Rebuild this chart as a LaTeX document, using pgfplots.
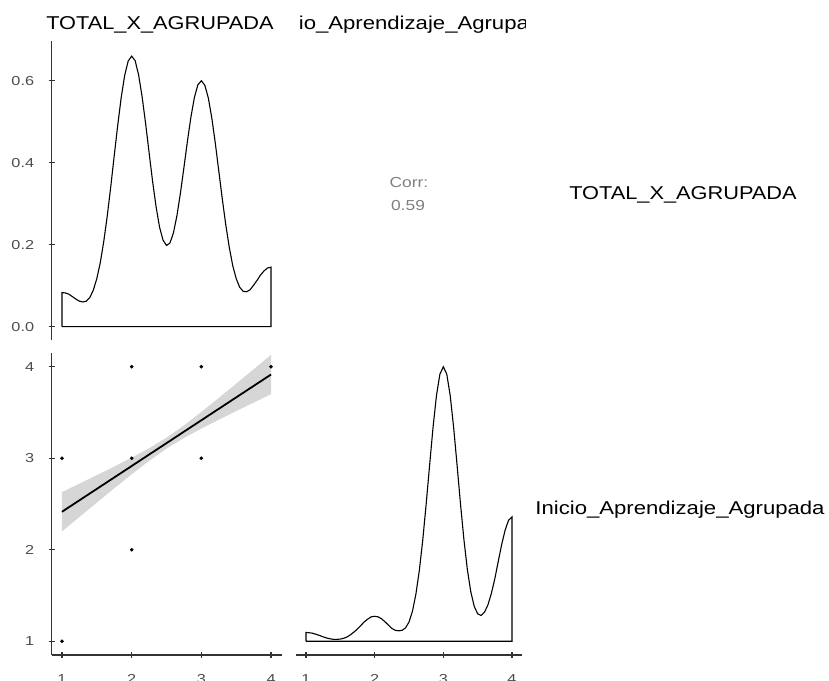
\documentclass[border=0pt]{standalone}
\usepackage{fontspec}
\setmainfont{Liberation Sans}
\usepackage{pgfplots}
\pgfplotsset{compat=1.18}
\definecolor{tickgray}{HTML}{4D4D4D}
\definecolor{corrgray}{HTML}{808080}
\definecolor{axgray}{HTML}{333333}
\definecolor{bandgray}{HTML}{999999}
\pgfplotsset{
  pairstyle/.style={
    scale only axis,
    anchor=south west,
    tick style={line width=1.2pt, color=axgray},
    major tick length=6pt,
    tick align=outside,
    ticklabel style={font=\fontsize{13}{15}\selectfont, color=tickgray, xscale=1.25},
    yticklabel style={xshift=-8pt},
    xticklabel style={yshift=-13pt},
    /pgf/number format/assume math mode=true,
    xmin=0.85, xmax=4.15,
  },
  pairlines/.style={
    axis line style={-, line width=1.2pt, color=axgray},
    every outer x axis line/.append style={-},
    every outer y axis line/.append style={-},
  }
}
\newcommand{\stripfont}{\fontsize{18.6}{20}\selectfont}
\begin{document}
\begin{tikzpicture}[x=1pt,y=1pt]
\useasboundingbox (0,0) rectangle (829,680);
\clip (0,0) rectangle (829,680);

% ---------- top-left: density of TOTAL_X_AGRUPADA ----------
\begin{axis}[pairstyle, at={(51.5pt,339.5pt)}, width=230pt, height=299.5pt,
  ymin=-0.034, ymax=0.697, axis x line=none, axis y line=left,
  ytick={0,0.2,0.4,0.6},
  yticklabel style={/pgf/number format/.cd, fixed, fixed zerofill, precision=1},
  pairlines]
\addplot[black, line width=1.1pt] coordinates {
(1,0) (1.00,0.083) (1.05,0.082) (1.10,0.079) (1.15,0.073) (1.20,0.067) (1.25,0.062)
(1.30,0.060) (1.35,0.062) (1.40,0.071) (1.45,0.089) (1.50,0.117) (1.55,0.156)
(1.60,0.208) (1.65,0.270) (1.70,0.341) (1.75,0.417) (1.80,0.491) (1.85,0.559)
(1.90,0.613) (1.95,0.648) (2.00,0.660) (2.05,0.649) (2.10,0.614) (2.15,0.561)
(2.20,0.496) (2.25,0.425) (2.30,0.355) (2.35,0.293) (2.40,0.243) (2.45,0.211)
(2.50,0.198) (2.55,0.204) (2.60,0.229) (2.65,0.271) (2.70,0.326) (2.75,0.388)
(2.80,0.452) (2.85,0.511) (2.90,0.559) (2.95,0.590) (3.00,0.600) (3.05,0.589)
(3.10,0.558) (3.15,0.509) (3.20,0.448) (3.25,0.380) (3.30,0.312) (3.35,0.249)
(3.40,0.194) (3.45,0.149) (3.50,0.117) (3.55,0.096) (3.60,0.086) (3.65,0.085)
(3.70,0.090) (3.75,0.101) (3.80,0.113) (3.85,0.126) (3.90,0.136) (3.95,0.143)
(4.00,0.145) (4,0) (1,0)};
\end{axis}

% ---------- bottom-left: scatter with linear fit ----------
\begin{axis}[pairstyle, at={(51.5pt,25pt)}, width=230pt, height=302pt,
  ymin=0.85, ymax=4.15, axis x line=bottom, axis y line=left,
  xtick={1,2,3,4}, ytick={1,2,3,4}, pairlines]
\addplot[only marks, mark=*, mark size=1.6pt, black] coordinates {
(1,1) (1,3) (2,2) (2,3) (2,4) (3,3) (3,4) (4,4)};
\addplot[draw=none, fill=bandgray, fill opacity=0.4] coordinates {
(1.00,2.630) (1.25,2.722) (1.50,2.815) (1.75,2.909) (2.00,3.006) (2.25,3.109)
(2.50,3.225) (2.75,3.359) (3.00,3.506) (3.25,3.659) (3.50,3.815) (3.75,3.972)
(4.00,4.130) (4.00,3.700) (3.75,3.608) (3.50,3.515) (3.25,3.421) (3.00,3.324)
(2.75,3.221) (2.50,3.105) (2.25,2.971) (2.00,2.824) (1.75,2.671) (1.50,2.515)
(1.25,2.358) (1.00,2.200)} --cycle;
\addplot[black, line width=1.8pt] coordinates {(1,2.415) (4,3.915)};
\end{axis}

% ---------- bottom-right: density of Inicio_Aprendizaje_Agrupada ----------
\begin{axis}[pairstyle, at={(295.7pt,25pt)}, width=226.6pt, height=302pt,
  ymin=-0.05, ymax=1.05, axis x line=bottom, axis y line=none,
  xtick={1,2,3,4}, pairlines]
\addplot[black, line width=1.1pt] coordinates {
(1,0) (1.00,0.032) (1.05,0.031) (1.10,0.029) (1.15,0.025) (1.20,0.021) (1.25,0.016)
(1.30,0.012) (1.35,0.009) (1.40,0.007) (1.45,0.007) (1.50,0.008) (1.55,0.011)
(1.60,0.016) (1.65,0.024) (1.70,0.034) (1.75,0.045) (1.80,0.058) (1.85,0.071)
(1.90,0.081) (1.95,0.089) (2.00,0.091) (2.05,0.089) (2.10,0.082) (2.15,0.071)
(2.20,0.059) (2.25,0.047) (2.30,0.040) (2.35,0.038) (2.40,0.040) (2.45,0.049)
(2.50,0.070) (2.55,0.109) (2.60,0.171) (2.65,0.257) (2.70,0.368) (2.75,0.500)
(2.80,0.641) (2.85,0.779) (2.90,0.895) (2.95,0.973) (3.00,1.000) (3.05,0.973)
(3.10,0.895) (3.15,0.779) (3.20,0.642) (3.25,0.500) (3.30,0.370) (3.35,0.261)
(3.40,0.180) (3.45,0.127) (3.50,0.100) (3.55,0.094) (3.60,0.106) (3.65,0.133)
(3.70,0.175) (3.75,0.228) (3.80,0.291) (3.85,0.353) (3.90,0.405) (3.95,0.441)
(4.00,0.453) (4,0) (1,0)};
\end{axis}

% ---------- texts ----------
\node[font=\stripfont, xscale=1.17] at (160,655) {TOTAL\_X\_AGRUPADA};
\begin{scope}
\clip (299.5,630) rectangle (525,680);
\node[font=\stripfont, xscale=1.19] at (409,655) {Inicio\_Aprendizaje\_Agrupada};
\end{scope}
\node[font=\fontsize{14.5}{16}\selectfont, text=corrgray, xscale=1.2] at (409,497) {Corr:};
\node[font=\fontsize{14.5}{16}\selectfont, text=corrgray, xscale=1.2] at (408,474) {0.59};
\node[font=\stripfont, xscale=1.17] at (683,485) {TOTAL\_X\_AGRUPADA};
\node[font=\stripfont, xscale=1.19] at (680,170) {Inicio\_Aprendizaje\_Agrupada};
\end{tikzpicture}
\end{document}
